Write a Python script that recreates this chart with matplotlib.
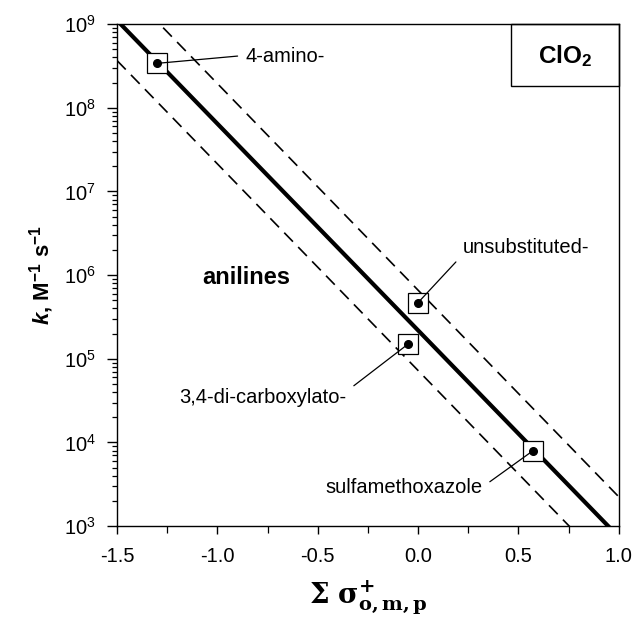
import numpy as np
import matplotlib
matplotlib.use("Agg")
import matplotlib.pyplot as plt
from matplotlib.ticker import LogLocator, MultipleLocator, NullFormatter
from matplotlib.patches import Rectangle

plt.rcParams['font.family'] = ['Liberation Sans', 'DejaVu Sans']
plt.rcParams['mathtext.fontset'] = 'custom'
plt.rcParams['mathtext.rm'] = 'Liberation Sans'
plt.rcParams['mathtext.it'] = 'Liberation Sans:italic'
plt.rcParams['mathtext.bf'] = 'Liberation Sans:bold'
plt.rcParams['mathtext.bfit'] = 'Liberation Sans:bold:italic'

# anilines + ClO2 data
names = ['4-amino-', 'unsubstituted-', '3,4-di-carboxylato-', 'sulfamethoxazole']
sigma = [-1.30, 0.00, -0.05, 0.57]
k = [3.4e8, 4.7e5, 1.5e5, 7.9e3]

# label anchor positions (sigma, k) and alignment
label_x = [-0.858, 0.221, -0.356, 0.321]
label_y = [3.55e8, 1.85e6, 2.93e4, 2.46e3]
label_ha = ['left', 'left', 'right', 'right']
label_rel = [(0, 0.55), (0, 0.1), (1, 0.85), (1, 0.55)]

# Hammett fit: log k = logk0 + rho * sigma, with +/- band
rho = -2.47
logk0 = 5.34
band = 0.48

fig = plt.figure(figsize=(6.36, 6.19), dpi=100)
ax = fig.add_axes([0.184, 0.150, 0.789, 0.811])

xs = np.linspace(-1.5, 1.0, 200)
ax.plot(xs, 10 ** (logk0 + rho * xs), color='black', lw=3.0, zorder=2)
ax.plot(xs, 10 ** (logk0 + band + rho * xs), color='black', lw=1.2,
        dashes=(7.5, 4.5), zorder=2)
ax.plot(xs, 10 ** (logk0 - band + rho * xs), color='black', lw=1.2,
        dashes=(7.5, 4.5), zorder=2)

ax.plot(sigma, k, 's', ms=14.5, mfc='white', mec='black', mew=0.9, zorder=3)
ax.plot(sigma, k, 'o', ms=5.5, color='black', zorder=4)

for i in range(len(names)):
    ax.annotate(names[i], xy=(sigma[i], k[i]), xytext=(label_x[i], label_y[i]),
                ha=label_ha[i], va='baseline', fontsize=14.5,
                arrowprops=dict(arrowstyle='-', color='black', lw=0.9,
                                relpos=label_rel[i], shrinkA=4, shrinkB=0),
                zorder=5)

ax.text(-1.073, 7.8e5, 'anilines', fontsize=17, fontweight='bold',
        ha='left', va='baseline')

# ClO2 box in upper right corner
ax.add_patch(Rectangle((0.785, 0.876), 0.215, 0.124, transform=ax.transAxes,
                       fill=False, lw=1.0, ec='black', zorder=6, clip_on=False))
ax.text(0.892, 0.936, r'ClO$_\mathbf{2}$', transform=ax.transAxes,
        fontsize=17.5, fontweight='bold', ha='center', va='center')

ax.set_xlim(-1.5, 1.0)
ax.set_yscale('log')
ax.set_ylim(1e3, 1e9)
ax.set_xticks([-1.5, -1.0, -0.5, 0.0, 0.5, 1.0])
ax.set_xticklabels(['-1.5', '-1.0', '-0.5', '0.0', '0.5', '1.0'])
ax.xaxis.set_minor_locator(MultipleLocator(0.25))
ax.yaxis.set_major_locator(LogLocator(base=10, numticks=10))
ax.yaxis.set_minor_locator(LogLocator(base=10, subs=np.arange(2, 10), numticks=20))
ax.yaxis.set_minor_formatter(NullFormatter())

ax.tick_params(which='major', direction='out', length=6, width=1.0,
               labelsize=14.5, top=False, right=False)
ax.tick_params(axis='x', which='major', pad=9)
ax.tick_params(axis='y', which='major', pad=8, length=7)
ax.tick_params(which='minor', direction='out', length=3.5, width=0.9,
               top=False, right=False)
ax.tick_params(axis='x', which='minor', length=5)
for s in ax.spines.values():
    s.set_linewidth(1.0)

ax.set_ylabel(r'$\mathbfit{k}$, M$^{\mathbf{-1}}$ s$^{\mathbf{-1}}$',
              fontsize=16, fontweight='bold', labelpad=6)
ax.set_xlabel(r'$\mathbf{\Sigma\ \sigma}^{\mathbf{+}}_{\mathbf{o,m,p}}$',
              fontsize=20, labelpad=9, math_fontfamily='dejavuserif')

fig.savefig('out.png', dpi=100)
